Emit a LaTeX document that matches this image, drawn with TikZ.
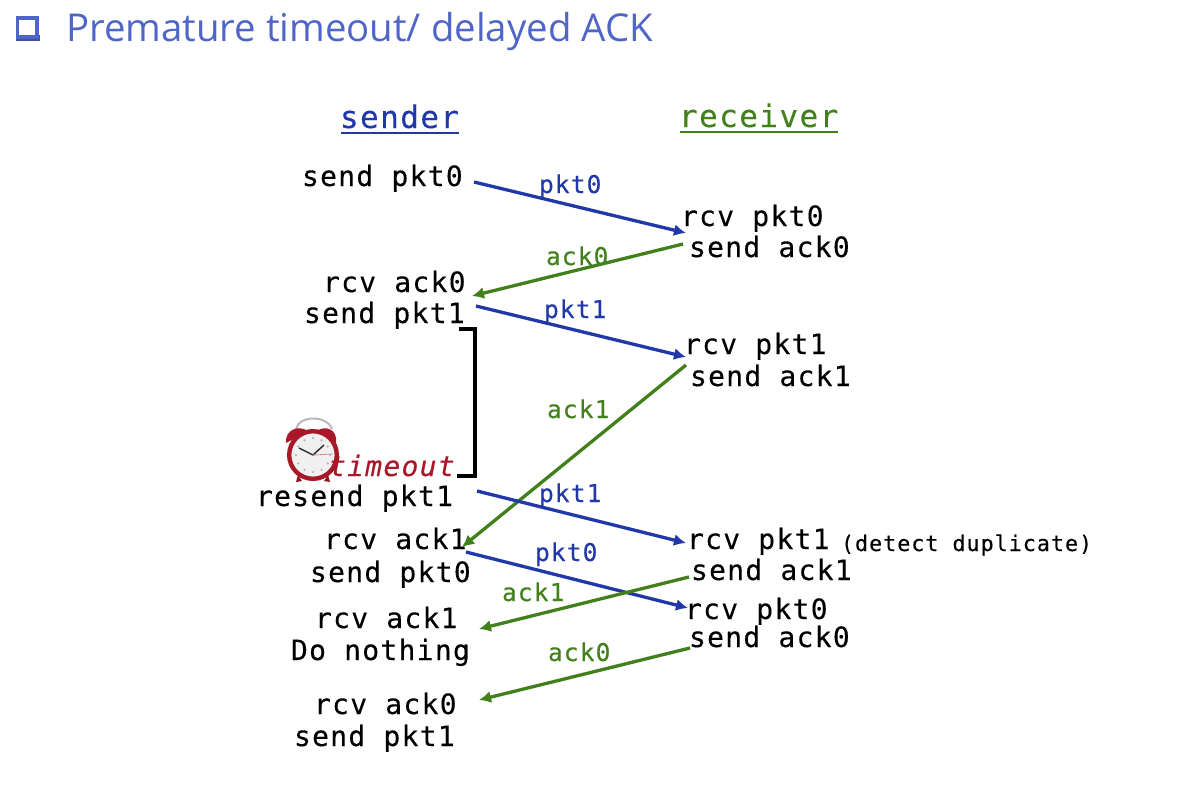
\documentclass[tikz,border=0pt]{standalone}
\usepackage{fontspec}
\newfontfamily\monof[LetterSpace=4.6,FakeBold=0.25]{DejaVu Sans Mono}
\newfontfamily\titlef{Open Sans}
\usetikzlibrary{arrows.meta}
\definecolor{titleblue}{HTML}{4F66C8}
\definecolor{pktblue}{HTML}{2038A8}
\definecolor{ackgreen}{HTML}{41801A}
\definecolor{toutred}{HTML}{A81828}
\tikzset{
  x=1pt,y=-1pt,
  every node/.style={inner sep=0pt,outer sep=0pt,anchor=base west},
  evt/.style={font=\monof\fontsize{28}{28}\selectfont,text=black},
  head/.style={font=\monof\fontsize{31}{31}\selectfont},
  lab/.style={font=\monof\fontsize{24.5}{24.5}\selectfont},
  pktarrow/.style={draw=pktblue,line width=3.3pt,-{Latex[length=12pt,width=12pt]}},
  ackarrow/.style={draw=ackgreen,line width=3.3pt,-{Latex[length=12pt,width=12pt]}},
}
\begin{document}
\begin{tikzpicture}
\useasboundingbox (0,0) rectangle (1204,798);
\fill[white] (0,0) rectangle (1204,798);
% title
\fill[titleblue!80!black] (16,35) rectangle (40,41);
\draw[titleblue,line width=3.2pt] (17.5,18) rectangle (37,37);
\node[font=\titlef\fontsize{38.4}{38.4}\selectfont,text=titleblue] (title) at (66,41) {Premature timeout/ delayed ACK};
% headers
\node[head,text=pktblue] (sender) at (340,128) {sender};
\node[head,text=ackgreen] (receiver) at (679,127) {receiver};
\draw[pktblue,line width=1.6pt] (341,133) -- (459,133);
\draw[ackgreen,line width=1.6pt] (680,132) -- (838,132);
% clock
\begin{scope}[shift={(313,455)}]
  \draw[gray!55,line width=2pt] (-17,-26) .. controls (-14,-40) and (14,-40) .. (19,-26);
  \fill[toutred] (-27,-12) .. controls (-28,-26) and (-14,-30) .. (-5,-24) -- cycle;
  \fill[toutred] (23,-12) .. controls (25,-26) and (12,-30) .. (4,-24) -- cycle;
  \fill[toutred!85!black] (-15,20) -- (-17,27) -- (-11,26) -- cycle;
  \fill[toutred!85!black] (15,20) -- (17,27) -- (11,26) -- cycle;
  \draw[toutred,line width=4.4pt,fill=gray!12] (0,0) circle (23.8);
  \foreach \a in {0,30,...,330}
    \fill[gray!65] (\a:17) circle (1.2);
  \draw[black!80,line width=1.5pt] (0,0) -- (-14,-7);
  \draw[black!80,line width=1.5pt] (0,0) -- (11,-10);
  \draw[toutred!50,line width=0.8pt] (0,0) -- (20,-1);
\end{scope}
% sender events
\node[evt] (s1) at (302,186) {send pkt0};
\node[evt] (s2) at (323,292) {rcv ack0};
\node[evt] (s3) at (304,323) {send pkt1};
\node[font=\monof\itshape\fontsize{28}{28}\selectfont,text=toutred] (tout) at (329,476) {timeout};
\node[evt] (s4) at (256,506) {resend pkt1};
\node[evt] (s5) at (324,549) {rcv ack1};
\node[evt] (s6) at (310,582) {send pkt0};
\node[evt] (s7) at (315,628) {rcv ack1};
\node[evt] (s8) at (291,660) {Do nothing};
\node[evt] (s9) at (314,714) {rcv ack0};
\node[evt] (s10) at (294,746) {send pkt1};
% receiver events
\node[evt] (r1) at (681,226) {rcv pkt0};
\node[evt] (r2) at (689,257) {send ack0};
\node[evt] (r3) at (684,354) {rcv pkt1};
\node[evt] (r4) at (690,386) {send ack1};
\node[evt] (r5) at (687,549) {rcv pkt1};
\node[font=\monof\fontsize{21.7}{21.7}\selectfont,text=black] (dup) at (841,551) {(detect duplicate)};
\node[evt] (r6) at (691,580) {send ack1};
\node[evt] (r7) at (685,619) {rcv pkt0};
\node[evt] (r8) at (689,647) {send ack0};
% connector ends
\coordinate (a1s) at (474,182); \coordinate (a1e) at (686,233);
\coordinate (a2s) at (683,244); \coordinate (a2e) at (472,296);
\coordinate (a3s) at (476,306); \coordinate (a3e) at (686,357);
\coordinate (a4s) at (686,365); \coordinate (a4e) at (462,547);
\coordinate (a5s) at (477,491); \coordinate (a5e) at (686,543);
\coordinate (a6s) at (466,552); \coordinate (a6e) at (688,608);
\coordinate (a7s) at (689,577); \coordinate (a7e) at (479,629);
\coordinate (a8s) at (690,648); \coordinate (a8e) at (479,700);
\draw[pktarrow] (a1s) -- (a1e);
\draw[ackarrow] (a2s) -- (a2e);
\draw[pktarrow] (a3s) -- (a3e);
\draw[ackarrow] (a4s) -- (a4e);
\draw[pktarrow] (a5s) -- (a5e);
\draw[pktarrow] (a6s) -- (a6e);
\draw[ackarrow] (a7s) -- (a7e);
\draw[ackarrow] (a8s) -- (a8e);
% labels
\node[lab,text=pktblue] (l1) at (539,193) {pkt0};
\node[lab,text=ackgreen] (l2) at (546,265) {ack0};
\node[lab,text=pktblue] (l3) at (544,318) {pkt1};
\node[lab,text=ackgreen] (l4) at (547,418) {ack1};
\node[lab,text=pktblue] (l5) at (539,502) {pkt1};
\node[lab,text=pktblue] (l6) at (535,561) {pkt0};
\node[lab,text=ackgreen] (l7) at (502,601) {ack1};
\node[lab,text=ackgreen] (l8) at (548,661) {ack0};
% bracket
\draw[black,line width=3.4pt] (459,329) -- (475,329) -- (475,476) -- (457,476);
\end{tikzpicture}
\end{document}
